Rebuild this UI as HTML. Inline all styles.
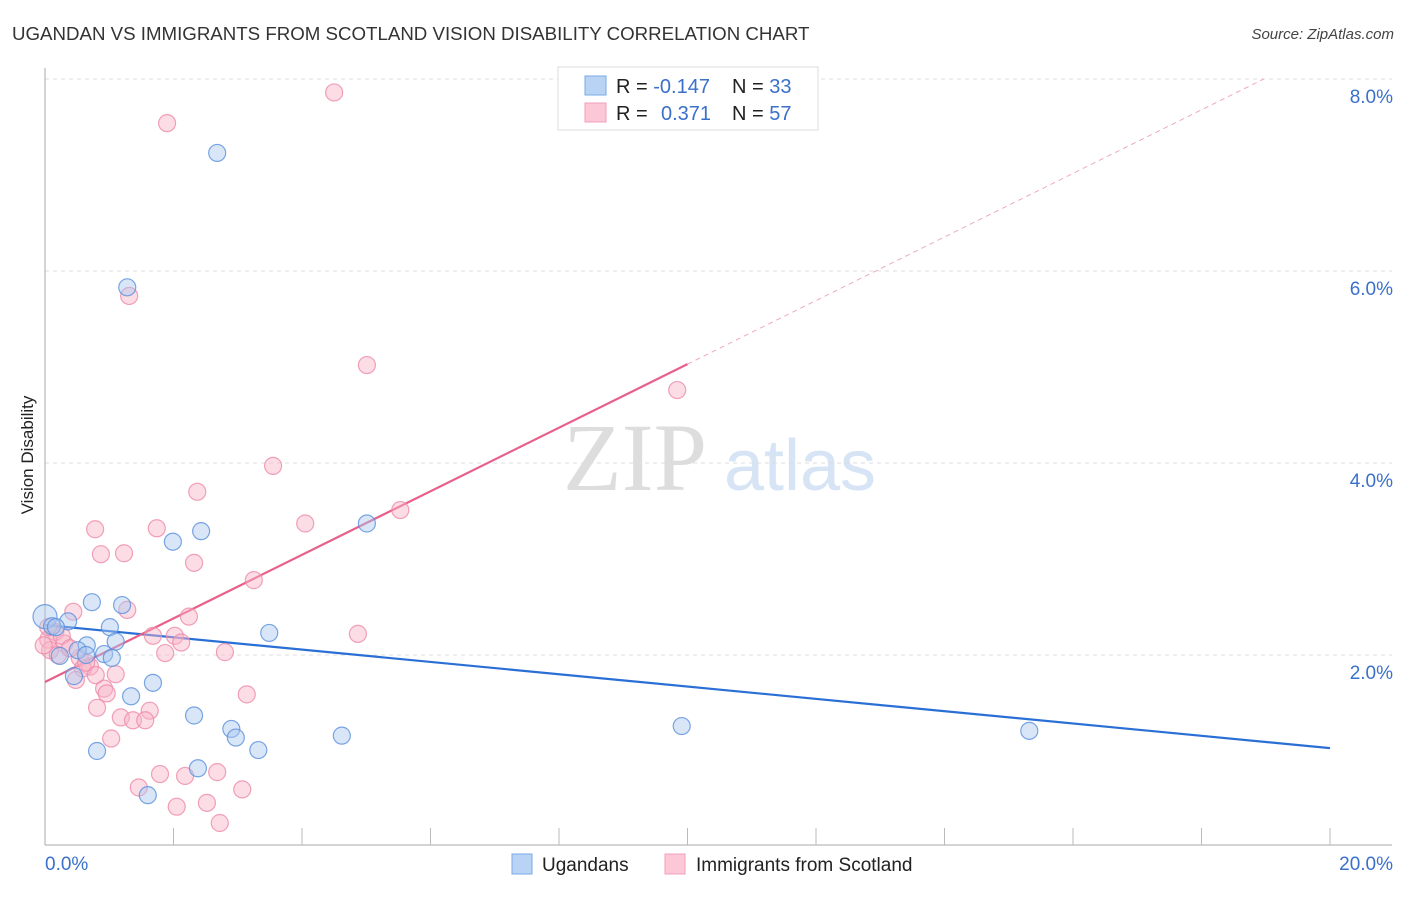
<!DOCTYPE html>
<html><head><meta charset="utf-8"><style>
body{margin:0;background:#fff;font-family:"Liberation Sans",sans-serif}
</style></head><body>
<svg width="1406" height="892" xmlns="http://www.w3.org/2000/svg">
<text x="12" y="40" font-size="18.7" fill="#333">UGANDAN VS IMMIGRANTS FROM SCOTLAND VISION DISABILITY CORRELATION CHART</text>
<text x="1394" y="39" font-size="15" fill="#444" font-style="italic" text-anchor="end">Source: ZipAtlas.com</text>
<text x="33" y="455" font-size="17" fill="#222" text-anchor="middle" transform="rotate(-90 33 455)">Vision Disability</text>
<g><text x="635" y="490" font-size="96" fill="#ddd" font-family="Liberation Serif" text-anchor="middle">ZIP</text><text x="800" y="490" font-size="72" fill="#d6e4f5" text-anchor="middle">atlas</text></g>
<g id="grid"></g><g id="axes"></g><g id="lines"></g><g id="pts"></g>
<g>
<rect x="558" y="67" width="260" height="63" fill="#fff" stroke="#ddd"/>
<rect x="585" y="76" width="21" height="19" fill="#b9d3f5" stroke="#7aa8e8"/>
<rect x="585" y="103" width="21" height="19" fill="#fcc8d8" stroke="#f0a0b8"/>
<text x="616" y="93" font-size="20" fill="#222">R = <tspan fill="#3a70cc">-0.147</tspan><tspan x="732">N = </tspan><tspan fill="#3a70cc">33</tspan></text>
<text x="616" y="120" font-size="20" fill="#222">R = <tspan x="661" fill="#3a70cc">0.371</tspan><tspan x="732">N = </tspan><tspan fill="#3a70cc">57</tspan></text>
</g>
<g>
<rect x="512" y="854" width="20" height="20" fill="#b9d3f5" stroke="#7aa8e8"/>
<text x="542" y="871" font-size="19" fill="#222">Ugandans</text>
<rect x="665" y="854" width="20" height="20" fill="#fcc8d8" stroke="#f0a0b8"/>
<text x="696" y="871" font-size="19" fill="#222">Immigrants from Scotland</text>
</g>
</svg>
<script>
const yTicks=[2,4,6,8];
const yTickLabels=["2.0%","4.0%","6.0%","8.0%"];
const xTicks=[0,2,4,6,8,10,12,14,16,18,20];
const blueX=[0,0.11,0.36,0.73,1.2,1.01,0.65,1.1,0.51,0.92,1.04,0.23,0.45,2.68,1.28,1.99,2.43,5.01,3.49,1.68,1.34,2.32,2.9,2.97,3.32,4.62,0.81,2.38,1.6,9.91,15.32,0.17,0.64];
const blueY=[2.4,2.3,2.35,2.55,2.52,2.29,2.1,2.14,2.05,2.01,1.97,1.99,1.78,7.23,5.83,3.18,3.29,3.37,2.23,1.71,1.57,1.37,1.23,1.14,1.01,1.16,1.0,0.82,0.54,1.26,1.21,2.29,2.0];
const pinkX=[4.5,1.9,1.31,5.01,9.84,3.55,2.37,5.53,4.05,0.78,1.74,0.87,1.23,2.32,3.25,1.28,0.44,2.24,1.68,2.02,2.12,4.87,1.87,2.8,0.16,0.3,0.05,0.08,0.2,0.54,0.7,0.59,1.1,0.48,0.92,0.96,3.14,0.81,1.18,1.63,1.37,1.56,1.03,1.79,2.18,2.68,1.46,3.07,2.05,2.52,2.72,0.05,0.26,0.39,0.64,0.79,-0.02];
const pinkY=[7.86,7.54,5.74,5.02,4.76,3.97,3.7,3.51,3.37,3.31,3.32,3.05,3.06,2.96,2.78,2.47,2.45,2.4,2.2,2.2,2.13,2.22,2.02,2.03,2.24,2.12,2.16,2.05,2.0,1.97,1.88,1.86,1.8,1.74,1.65,1.6,1.59,1.45,1.35,1.42,1.32,1.32,1.13,0.76,0.74,0.78,0.62,0.6,0.42,0.46,0.25,2.29,2.2,2.07,1.92,1.79,2.1];
const blueFit=[2.3125,1.03];
const pinkFit=[1.719,5.03];
const NS='http://www.w3.org/2000/svg';
const X=v=>45+v*64.25, Y=v=>847-v*96;
function mk(p,t,a){const e=document.createElementNS(NS,t);for(const k in a)e.setAttribute(k,a[k]);document.getElementById(p).appendChild(e);return e;}
yTicks.forEach((t,i)=>{const g=mk('grid','line',{x1:45,x2:1392,y1:Y(t),y2:Y(t),stroke:'#ddd','stroke-dasharray':'4,4'});


const l=mk('grid','text',{x:1393,y:Y(t)+24,'font-size':19,fill:'#3a70cc','text-anchor':'end'});l.textContent=yTickLabels[i];

});
mk('axes','line',{x1:45,x2:45,y1:68,y2:845,stroke:'#aaa'});
const xa=mk('axes','line',{x1:45,x2:1392,y1:845,y2:845,stroke:'#aaa'});


xTicks.slice(1).forEach(t=>{const k=mk('axes','line',{x1:X(t),x2:X(t),y1:828,y2:845,stroke:'#bbb'});

});
const t0=mk('axes','text',{x:45,y:870,'font-size':19,fill:'#3a70cc'});t0.textContent='0.0%';


const t1=mk('axes','text',{x:1393,y:870,'font-size':19,fill:'#3a70cc','text-anchor':'end'});t1.textContent='20.0%';


function dot(x,y,f,s,n,r){const c=mk('pts','circle',{cx:X(x),cy:Y(y),r:r,fill:f,'fill-opacity':0.45,stroke:s,'stroke-width':1.2,'stroke-opacity':0.8});

}
pinkX.forEach((x,i)=>dot(x,pinkY[i],'#f8b4c8','#ee8aa8','scotland-point',8.5));
blueX.forEach((x,i)=>dot(x,blueY[i],'#a8c8f0','#5a90dd','ugandan-point',i==0?12:8.5));
const bl=mk('lines','line',{x1:X(0),y1:Y(blueFit[0]),x2:X(20),y2:Y(blueFit[1]),stroke:'#2a6fd6','stroke-width':2.2});


const pl=mk('lines','line',{x1:X(0),y1:Y(pinkFit[0]),x2:X(10),y2:Y(pinkFit[1]),stroke:'#e8608a','stroke-width':2.2});


const sl=(pinkFit[1]-pinkFit[0])/10, xe=(8-pinkFit[0])/sl;
const pd=mk('lines','line',{x1:X(10),y1:Y(pinkFit[1]),x2:X(xe),y2:Y(8),stroke:'#eeaabf','stroke-width':1,'stroke-dasharray':'5,4'});


</script>
</body></html>
